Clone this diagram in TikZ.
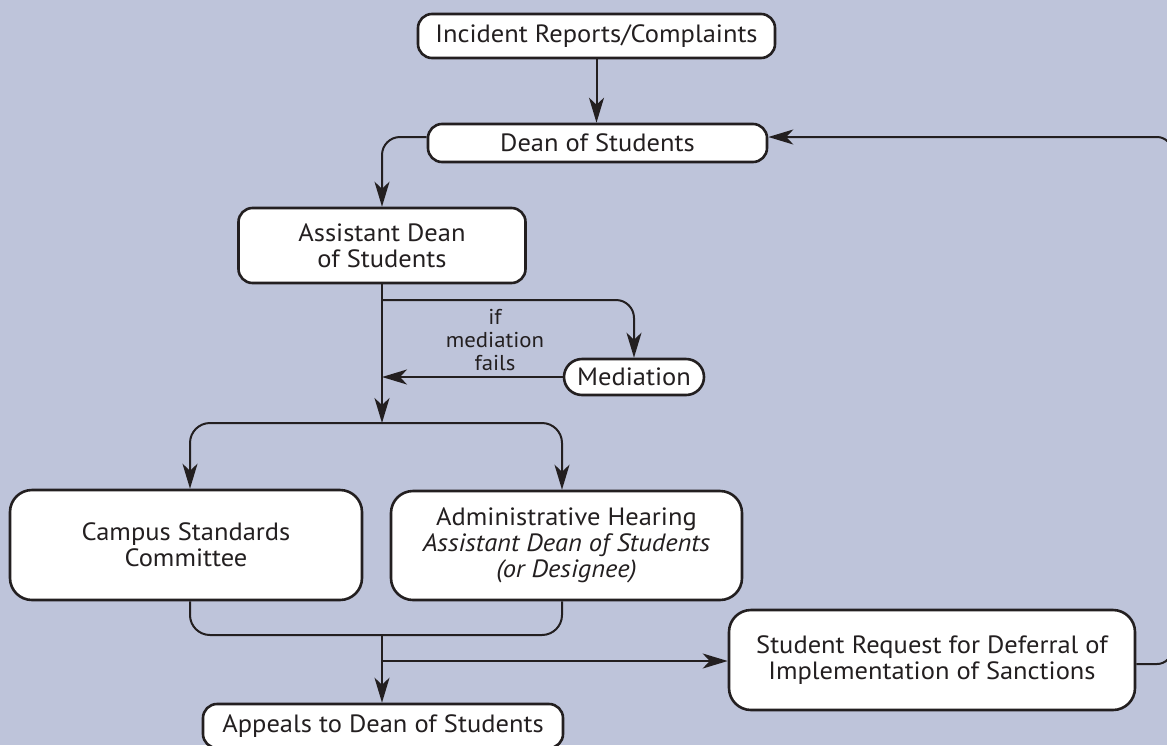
\documentclass[tikz,border=0pt]{standalone}
\usepackage{fontspec}
\setmainfont{PT Sans}[FakeStretch=1.06]
\usetikzlibrary{arrows.meta}
\definecolor{bg}{RGB}{190,196,218}
\definecolor{ink}{RGB}{35,31,32}
\newcommand{\mainsize}{\fontsize{25}{26}\selectfont}
\newcommand{\smallsize}{\fontsize{21.5}{23}\selectfont}
\begin{document}
\begin{tikzpicture}[x=1pt,y=-1pt,
  box/.style={draw=ink, line width=2.6pt, fill=white, rounded corners=#1,
    inner sep=0pt, align=center, font=\mainsize, text=ink},
  box/.default=14pt,
  conn/.style={draw=ink, line width=2pt},
  arr/.style={conn, -{Stealth[length=25pt,width=15pt,inset=7pt]}},
  lbl/.style={align=center, font=\smallsize, text=ink, inner sep=0pt}
]
\fill[bg] (0,0) rectangle (1167,745);
\useasboundingbox (0,0) rectangle (1167,745);

\node[box, minimum width=357pt, minimum height=44pt] (inc) at (596.5,36) {Incident Reports/Complaints};
\node[box, minimum width=339pt, minimum height=38pt] (dean) at (597.5,143) {Dean of Students};
\node[box, minimum width=287pt, minimum height=75pt] (asst) at (382,245.5) {Assistant Dean\\of Students};
\node[box=18pt, minimum width=140pt, minimum height=36pt] (med) at (634,377) {Mediation};
\node[box=22pt, minimum width=352pt, minimum height=110pt] (campus) at (186,545) {Campus Standards\\Committee};
\node[box=22pt, minimum width=351pt, minimum height=109pt] (admin) at (566.5,545.5) {Administrative Hearing\\\textit{Assistant Dean of Students}\\\textit{(or Designee)}};
\node[box, minimum width=360pt, minimum height=44pt] (appeals) at (383,726) {Appeals to Dean of Students};
\node[box=22pt, minimum width=406pt, minimum height=100pt] (student) at (932,660) {Student Request for Deferral of\\Implementation of Sanctions};

\node[lbl] (iflbl) at (495,340) {if\\mediation\\fails};

\coordinate (J1) at (382,423);
\coordinate (B1) at (382,300);
\coordinate (J2) at (382,635);
\coordinate (J3) at (382,661);
\coordinate (R) at (1172,137);

\draw[arr] (inc.south) -- (inc.south |- dean.north);
\draw[arr, rounded corners=18pt] ([yshift=6pt]dean.west) -| (asst.north);
\draw[arr] (asst.south) -- (J1);
\draw[arr, rounded corners=18pt] (B1) -| (med.north);
\draw[arr] (med.west) -- (med.west -| J1);
\draw[arr, rounded corners=20pt] (J1) -| ([xshift=4pt]campus.north);
\draw[arr, rounded corners=20pt] (J1) -| ([xshift=-4.5pt]admin.north);
\draw[conn, rounded corners=20pt] ([xshift=4pt]campus.south) |- ([xshift=-4.5pt]admin.south |- J2) -- ([xshift=-4.5pt]admin.south);
\draw[arr] (J2) -- (J2 |- appeals.north);
\draw[arr] (J3) -- (J3 -| student.west);
\draw[arr, rounded corners=15pt] ([yshift=-4pt]student.east) -| (R) -- (R -| dean.east);
\end{tikzpicture}
\end{document}
